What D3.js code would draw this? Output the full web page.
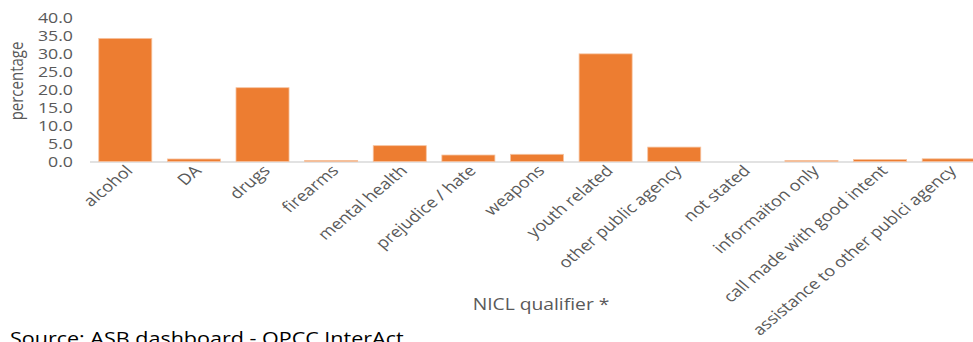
<!DOCTYPE html>
<html><head><meta charset="utf-8">
<script src="https://cdn.jsdelivr.net/npm/d3@7"></script>
<style>body{margin:0;background:#fff;} text{font-family:"Open Sans",sans-serif;}</style>
</head><body>
<svg id="c" width="973" height="342"></svg>
<script>
const categories = ["alcohol","DA","drugs","firearms","mental health","prejudice / hate","weapons","youth related","other public agency","not stated","informaiton only","call made with good intent","assistance to other publci agency"];
const values = [34.2,0.7,20.5,0.3,4.4,1.8,2.0,29.9,4.0,0,0.3,0.55,0.75];
const yTicks = [0,5,10,15,20,25,30,35,40];

const SX = 1.2; // horizontal stretch of text seen in the reference
const svg = d3.select("#c");
const x = d3.scaleBand().domain(categories).range([91, 983]).paddingInner(0.227).paddingOuter(0.113);
const y = d3.scaleLinear().domain([0,40]).range([161.5, 17.5]);

svg.append("line").attr("x1",90).attr("x2",973).attr("y1",y(0)+0.5).attr("y2",y(0)+0.5)
  .attr("stroke","#d9d9d9").attr("stroke-width",1.5);

svg.selectAll("rect.bar").data(values).join("rect").attr("class","bar")
  .attr("x",(d,i)=>x(categories[i])).attr("width",x.bandwidth())
  .attr("y",d=>y(d)).attr("height",d=>y(0)-y(d))
  .attr("fill","#ed7d31").attr("stroke",d=>d>0?"#f6c3a0":"none").attr("stroke-width",0.8);

svg.selectAll("text.yt").data(yTicks).join("text").attr("class","yt")
  .attr("transform",d=>`translate(73,${y(d)}) scale(1.2,1)`)
  .attr("dy","0.35em").attr("text-anchor","end")
  .attr("font-size",14.8).attr("fill","#595959").text(d=>d.toFixed(1));

svg.selectAll("text.xl").data(categories).join("text").attr("class","xl")
  .attr("transform",d=>`translate(${x(d)+x.bandwidth()/2+4},${168}) scale(${SX},1) rotate(-45)`)
  .attr("text-anchor","end").attr("dy","0.35em")
  .attr("font-size",15.1).attr("fill","#595959").text(d=>d);

svg.append("text").attr("transform",`translate(17,81) scale(${SX},1) rotate(-90)`).attr("text-anchor","middle")
  .attr("dy","0.35em").attr("font-size",15).attr("fill","#595959").text("percentage");

svg.append("text").attr("transform",`translate(541,304) scale(1.22,1)`).attr("dy","0.35em").attr("text-anchor","middle")
  .attr("font-size",15.8).attr("fill","#595959").text("NICL qualifier *");

svg.append("text").attr("transform","translate(10,345) scale(1.23,1)").attr("font-size",17.5).attr("fill","#000").text("Source: ASB dashboard - OPCC InterAct");
</script>
</body></html>
